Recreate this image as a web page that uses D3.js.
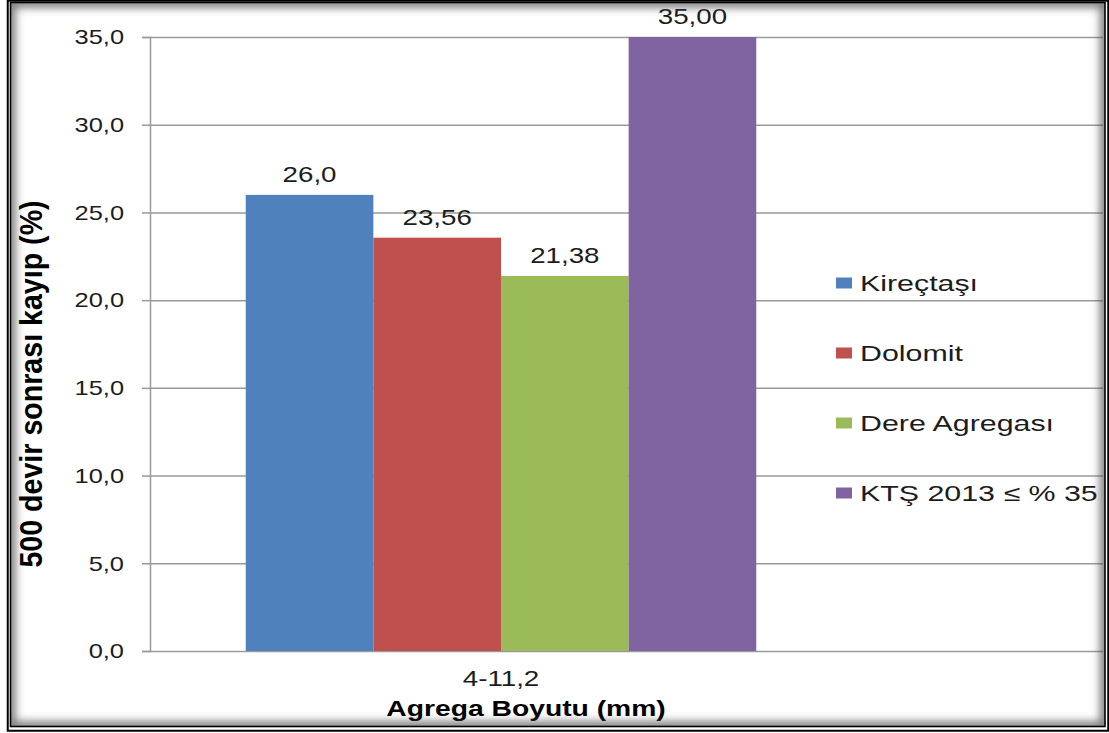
<!DOCTYPE html>
<html>
<head>
<meta charset="utf-8">
<script src="https://cdn.jsdelivr.net/npm/d3@7"></script>
<style>
  body { margin: 0; background: #fff; }
  svg { display: block; }
  text { font-family: "Liberation Sans", Arial, Helvetica, sans-serif; fill: #1c1c1c; }
</style>
</head>
<body>
<svg id="chart" width="1109" height="733"></svg>
<script>
// ---- data ----
const categories = ["4-11,2"];
const seriesNames = ["Kireçtaşı", "Dolomit", "Dere Agregası", "KTŞ 2013 ≤ % 35"];
const seriesValues = [26.0, 23.56, 21.38, 35.00];
const labelDecimals = [1, 2, 2, 2];
const seriesColors = ["#4F81BD", "#C0504D", "#9BBB59", "#8064A2"];
const yTicks = [0, 5, 10, 15, 20, 25, 30, 35];
const yTickLabels = ["0,0", "5,0", "10,0", "15,0", "20,0", "25,0", "30,0", "35,0"];
const xTitle = "Agrega Boyutu (mm)";
const yTitle = "500 devir sonrası kayıp (%)";

// ---- layout ----
const W = 1109, H = 733;
const plot = { left: 150, right: 852, top: 37, bottom: 651, gridRight: 1103 };
const gapWidth = 1.5;          // gap between category groups, in bar widths
const SX = 1.26;               // horizontal text stretch

const svg = d3.select("#chart");

// decimal comma formatter
const fmt = (v, d) => d3.format(`.${d}f`)(v).replace(".", ",");

const y = d3.scaleLinear().domain([0, 35]).range([plot.bottom, plot.top]);

const nS = seriesNames.length;
const pIn = gapWidth / (nS + gapWidth);
const x0 = d3.scaleBand().domain(categories).range([plot.left, plot.right])
  .paddingInner(pIn).paddingOuter(pIn / 2);
const x1 = d3.scaleBand().domain(d3.range(nS)).range([0, x0.bandwidth()]).padding(0);

const data = seriesNames.map((name, i) => ({
  name, i, value: seriesValues[i], color: seriesColors[i], cat: categories[0],
  label: fmt(seriesValues[i], labelDecimals[i])
}));

// white background
svg.append("rect").attr("width", W).attr("height", H).attr("fill", "#fff");

// ---- gridlines ----
svg.append("g")
  .attr("transform", `translate(${plot.left},0)`)
  .call(d3.axisLeft(y).tickValues(yTicks).tickSize(-(plot.gridRight - plot.left)).tickFormat(""))
  .call(g => g.select(".domain").remove())
  .call(g => g.selectAll("line").attr("stroke", "#9a9a9a").attr("stroke-width", 1.5));

// ---- bars ----
svg.append("g").selectAll("rect").data(data).join("rect")
  .attr("x", d => x0(d.cat) + x1(d.i))
  .attr("y", d => y(d.value))
  .attr("width", x1.bandwidth())
  .attr("height", d => y(0) - y(d.value))
  .attr("fill", d => d.color);

// value labels
svg.append("g").selectAll("text").data(data).join("text")
  .attr("text-anchor", "middle")
  .attr("font-size", 22)
  .attr("transform", d => `translate(${x0(d.cat) + x1(d.i) + x1.bandwidth() / 2},${y(d.value) - 13}) scale(${SX},1)`)
  .text(d => d.label);

// ---- y axis ----
const yAxis = svg.append("g")
  .attr("transform", `translate(${plot.left},0)`)
  .call(d3.axisLeft(y).tickValues(yTicks).tickSize(8)
    .tickFormat((d, i) => yTickLabels[i]));
yAxis.select(".domain").attr("stroke", "#9a9a9a").attr("stroke-width", 1.5);
yAxis.selectAll(".tick line").attr("stroke", "#9a9a9a").attr("stroke-width", 1.5);
yAxis.selectAll(".tick text")
  .attr("x", 0)
  .attr("font-size", 21)
  .attr("font-family", "Liberation Sans, Arial, sans-serif")
  .attr("fill", "#1c1c1c")
  .attr("transform", `translate(-26,0) scale(${SX * 0.96},1)`);

// ---- x axis (category label) ----
svg.append("g").selectAll("text").data(categories).join("text")
  .attr("text-anchor", "middle")
  .attr("font-size", 22)
  .attr("transform", d => `translate(${x0(d) + x0.bandwidth() / 2},686) scale(${SX},1)`)
  .text(d => d);

// axis titles
svg.append("text")
  .attr("text-anchor", "middle")
  .attr("font-size", 22)
  .attr("font-weight", "bold")
  .style("fill", "#000")
  .attr("transform", `translate(526,716) scale(${SX * 1.02},1)`)
  .text(xTitle);

svg.append("text")
  .attr("text-anchor", "middle")
  .attr("font-size", 28.6)
  .attr("font-weight", "bold")
  .style("fill", "#000")
  .attr("transform", `translate(42,384) scale(1.12,1) rotate(-90)`)
  .text(yTitle);

// ---- legend ----
const legend = svg.append("g").attr("transform", "translate(836,283)");
const item = legend.selectAll("g").data(data).join("g")
  .attr("transform", d => `translate(0,${d.i * 70})`);
item.append("rect")
  .attr("x", 0).attr("y", -5.5).attr("width", 16).attr("height", 11)
  .attr("fill", d => d.color);
item.append("text")
  .attr("font-size", 22)
  .attr("transform", `translate(24,7.8) scale(1.38,1)`)
  .text(d => d.name);

// ---- frame with inner shadow ----
const defs = svg.append("defs");
defs.append("clipPath").attr("id", "inner")
  .append("rect").attr("x", 10.5).attr("y", 2.5).attr("width", 1094.5).attr("height", 724);
defs.append("filter").attr("id", "soft").attr("x", "-5%").attr("y", "-5%").attr("width", "110%").attr("height", "110%")
  .append("feGaussianBlur").attr("stdDeviation", 4);

svg.append("g").attr("clip-path", "url(#inner)")
  .append("rect")
  .attr("x", 10.5).attr("y", 2.5).attr("width", 1094.5).attr("height", 724)
  .attr("fill", "none").attr("stroke", "#4a4a4a").attr("stroke-width", 10)
  .attr("opacity", 0.75)
  .attr("filter", "url(#soft)");

svg.append("rect")
  .attr("x", 7.75).attr("y", 0.75).attr("width", 1100.5).attr("height", 730)
  .attr("fill", "none").attr("stroke", "#000").attr("stroke-width", 2);
svg.append("rect")
  .attr("x", 10.5).attr("y", 2.5).attr("width", 1094.5).attr("height", 724)
  .attr("fill", "none").attr("stroke", "#000").attr("stroke-width", 1.6);
</script>
</body>
</html>
